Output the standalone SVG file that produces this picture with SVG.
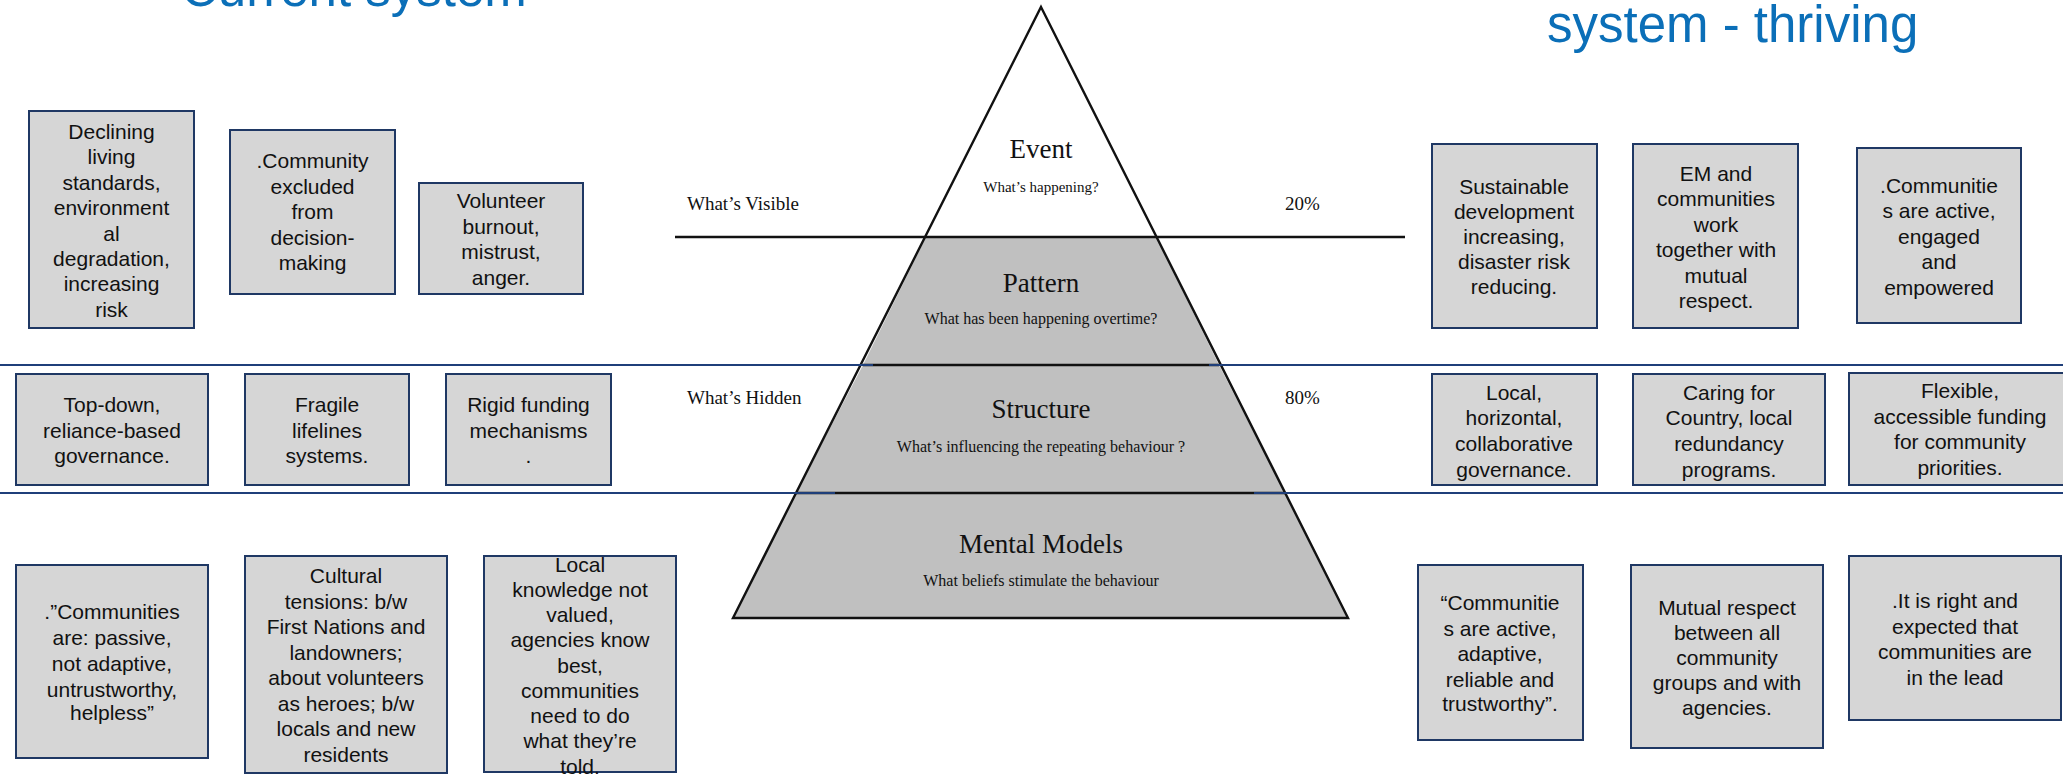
<svg xmlns="http://www.w3.org/2000/svg" width="2063" height="775" viewBox="0 0 2063 775">
<style>
.box{fill:#d6d6d6;stroke:#1f3864;stroke-width:2}
.bt{font-family:"Liberation Sans",Arial,sans-serif;font-size:21px;fill:#111;text-anchor:middle}
.title{font-family:"Liberation Sans",Arial,sans-serif;font-size:51px;fill:#0b6fb8}
.ph{font-family:"Liberation Serif","Times New Roman",serif;font-size:27px;fill:#111;text-anchor:middle}
.ps{font-family:"Liberation Serif","Times New Roman",serif;font-size:16px;fill:#111;text-anchor:middle}
.side{font-family:"Liberation Serif","Times New Roman",serif;font-size:19px;fill:#111}
.blue{stroke:#1f3f7a;stroke-width:2.2;fill:none}
.blk{stroke:#111;stroke-width:2.4;fill:none}
.gray{fill:#c0c0c0}
</style>
<rect width="2063" height="775" fill="#ffffff"/>

<g id="titles">
<text class="title" x="181" y="6">Current system</text>
<text class="title" x="1547" y="42">system - thriving</text>
</g>

<g id="pyramid">
<polygon points="1041,7 926,237 1156,237" fill="#ffffff"/>
<polygon class="gray" points="926,237 1156,237 1219,365 863,365"/>
<polygon class="gray" points="863,365 1219,365 1285,493 796,493"/>
<polygon class="gray" points="796,493 1285,493 1348,618 733,618"/>
<polygon points="1041,7 1348,618 733,618" fill="none" stroke="#111" stroke-width="2.4" stroke-linejoin="miter"/>
<text class="ph" x="1041" y="158">Event</text>
<text class="ps" x="1041" y="192" style="font-size:15px">What’s happening?</text>
<text class="ph" x="1041" y="292">Pattern</text>
<text class="ps" x="1041" y="324">What has been happening overtime?</text>
<text class="ph" x="1041" y="418">Structure</text>
<text class="ps" x="1041" y="452">What’s influencing the repeating behaviour ?</text>
<text class="ph" x="1041" y="553">Mental Models</text>
<text class="ps" x="1041" y="586">What beliefs stimulate the behaviour</text>
<text class="side" x="687" y="210">What’s Visible</text>
<text class="side" x="1285" y="210">20%</text>
<text class="side" x="687" y="404">What’s Hidden</text>
<text class="side" x="1285" y="404">80%</text>
</g>

<g id="dividers">
<line class="blk" x1="675" y1="237" x2="1405" y2="237"/>
<line class="blk" x1="863" y1="365" x2="1219" y2="365"/>
<line class="blk" x1="796" y1="493" x2="1285" y2="493"/>
<line class="blue" x1="0" y1="365" x2="873" y2="365"/>
<line class="blue" x1="1209" y1="365" x2="2063" y2="365"/>
<line class="blue" x1="0" y1="493" x2="835" y2="493"/>
<line class="blue" x1="1254" y1="493" x2="2063" y2="493"/>
</g>

<g id="node-declining">
<rect class="box" x="29" y="111" width="165" height="217"/>
<text class="bt" x="111.5" y="139">Declining</text>
<text class="bt" x="111.5" y="164.4">living</text>
<text class="bt" x="111.5" y="189.8">standards,</text>
<text class="bt" x="111.5" y="215.2">environment</text>
<text class="bt" x="111.5" y="240.6">al</text>
<text class="bt" x="111.5" y="266">degradation,</text>
<text class="bt" x="111.5" y="291.4">increasing</text>
<text class="bt" x="111.5" y="316.8">risk</text>
</g>

<g id="node-excluded">
<rect class="box" x="230" y="130" width="165" height="164"/>
<text class="bt" x="312.5" y="168">.Community</text>
<text class="bt" x="312.5" y="193.6">excluded</text>
<text class="bt" x="312.5" y="219.2">from</text>
<text class="bt" x="312.5" y="244.8">decision-</text>
<text class="bt" x="312.5" y="270.4">making</text>
</g>

<g id="node-volunteer">
<rect class="box" x="419" y="183" width="164" height="111"/>
<text class="bt" x="501" y="208">Volunteer</text>
<text class="bt" x="501" y="233.6">burnout,</text>
<text class="bt" x="501" y="259.2">mistrust,</text>
<text class="bt" x="501" y="284.8">anger.</text>
</g>

<g id="node-topdown">
<rect class="box" x="16" y="374" width="192" height="111"/>
<text class="bt" x="112" y="412">Top-down,</text>
<text class="bt" x="112" y="437.5">reliance-based</text>
<text class="bt" x="112" y="463">governance.</text>
</g>

<g id="node-fragile">
<rect class="box" x="245" y="374" width="164" height="111"/>
<text class="bt" x="327" y="412">Fragile</text>
<text class="bt" x="327" y="437.5">lifelines</text>
<text class="bt" x="327" y="463">systems.</text>
</g>

<g id="node-rigid">
<rect class="box" x="446" y="374" width="165" height="111"/>
<text class="bt" x="528.5" y="412">Rigid funding</text>
<text class="bt" x="528.5" y="437.5">mechanisms</text>
<text class="bt" x="528.5" y="463">.</text>
</g>

<g id="node-passive">
<rect class="box" x="16" y="565" width="192" height="193"/>
<text class="bt" x="112" y="619">.”Communities</text>
<text class="bt" x="112" y="644.5">are: passive,</text>
<text class="bt" x="112" y="670.5">not adaptive,</text>
<text class="bt" x="112" y="697">untrustworthy,</text>
<text class="bt" x="112" y="720">helpless”</text>
</g>

<g id="node-cultural">
<rect class="box" x="245" y="556" width="202" height="217"/>
<text class="bt" x="346" y="583">Cultural</text>
<text class="bt" x="346" y="608.5">tensions: b/w</text>
<text class="bt" x="346" y="634">First Nations and</text>
<text class="bt" x="346" y="659.5">landowners;</text>
<text class="bt" x="346" y="685">about volunteers</text>
<text class="bt" x="346" y="710.5">as heroes; b/w</text>
<text class="bt" x="346" y="736">locals and new</text>
<text class="bt" x="346" y="761.5">residents</text>
</g>

<g id="node-knowledge">
<rect class="box" x="484" y="556" width="192" height="216"/>
<text class="bt" x="580" y="571.5">Local</text>
<text class="bt" x="580" y="596.8">knowledge not</text>
<text class="bt" x="580" y="622">valued,</text>
<text class="bt" x="580" y="647.3">agencies know</text>
<text class="bt" x="580" y="672.5">best,</text>
<text class="bt" x="580" y="697.8">communities</text>
<text class="bt" x="580" y="723">need to do</text>
<text class="bt" x="580" y="748.3">what they’re</text>
<text class="bt" x="580" y="773.6">told.</text>
</g>

<g id="node-sustainable">
<rect class="box" x="1432" y="144" width="165" height="184"/>
<text class="bt" x="1514" y="194">Sustainable</text>
<text class="bt" x="1514" y="218.5">development</text>
<text class="bt" x="1514" y="243.5">increasing,</text>
<text class="bt" x="1514" y="269">disaster risk</text>
<text class="bt" x="1514" y="294">reducing.</text>
</g>

<g id="node-em">
<rect class="box" x="1633" y="144" width="165" height="184"/>
<text class="bt" x="1716" y="181">EM and</text>
<text class="bt" x="1716" y="206.4">communities</text>
<text class="bt" x="1716" y="231.8">work</text>
<text class="bt" x="1716" y="257.2">together with</text>
<text class="bt" x="1716" y="282.6">mutual</text>
<text class="bt" x="1716" y="308">respect.</text>
</g>

<g id="node-active">
<rect class="box" x="1857" y="148" width="164" height="175"/>
<text class="bt" x="1939" y="193">.Communitie</text>
<text class="bt" x="1939" y="218">s are active,</text>
<text class="bt" x="1939" y="243.5">engaged</text>
<text class="bt" x="1939" y="269">and</text>
<text class="bt" x="1939" y="294.5">empowered</text>
</g>

<g id="node-local">
<rect class="box" x="1432" y="374" width="165" height="111"/>
<text class="bt" x="1514" y="400">Local,</text>
<text class="bt" x="1514" y="425">horizontal,</text>
<text class="bt" x="1514" y="450.5">collaborative</text>
<text class="bt" x="1514" y="476.5">governance.</text>
</g>

<g id="node-caring">
<rect class="box" x="1633" y="374" width="192" height="111"/>
<text class="bt" x="1729" y="400">Caring for</text>
<text class="bt" x="1729" y="425">Country, local</text>
<text class="bt" x="1729" y="450.5">redundancy</text>
<text class="bt" x="1729" y="476.5">programs.</text>
</g>

<g id="node-flexible">
<rect class="box" x="1849" y="373" width="222" height="112"/>
<text class="bt" x="1960" y="398">Flexible,</text>
<text class="bt" x="1960" y="423.5">accessible funding</text>
<text class="bt" x="1960" y="449">for community</text>
<text class="bt" x="1960" y="474.5">priorities.</text>
</g>

<g id="node-adaptive">
<rect class="box" x="1418" y="565" width="165" height="175"/>
<text class="bt" x="1500" y="610">“Communitie</text>
<text class="bt" x="1500" y="635.5">s are active,</text>
<text class="bt" x="1500" y="661">adaptive,</text>
<text class="bt" x="1500" y="686.5">reliable and</text>
<text class="bt" x="1500" y="711">trustworthy”.</text>
</g>

<g id="node-mutual">
<rect class="box" x="1631" y="565" width="192" height="183"/>
<text class="bt" x="1727" y="615">Mutual respect</text>
<text class="bt" x="1727" y="639.5">between all</text>
<text class="bt" x="1727" y="664.5">community</text>
<text class="bt" x="1727" y="690">groups and with</text>
<text class="bt" x="1727" y="714.5">agencies.</text>
</g>

<g id="node-lead">
<rect class="box" x="1849" y="556" width="212" height="164"/>
<text class="bt" x="1955" y="608">.It is right and</text>
<text class="bt" x="1955" y="633.5">expected that</text>
<text class="bt" x="1955" y="659">communities are</text>
<text class="bt" x="1955" y="684.5">in the lead</text>
</g>
</svg>
